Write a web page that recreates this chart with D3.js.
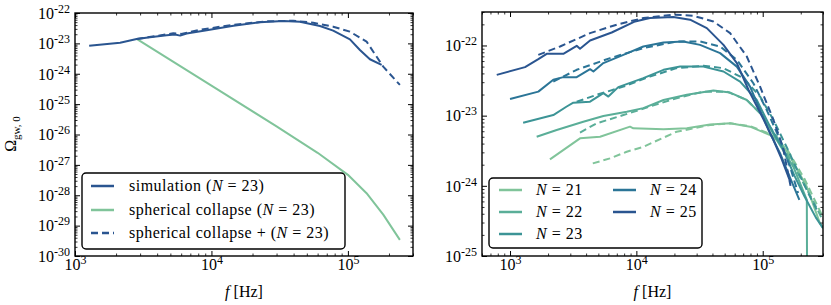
<!DOCTYPE html>
<html>
<head>
  <meta charset="utf-8">
  <script src="https://d3js.org/d3.v7.min.js"></script>
  <style>
    body { margin: 0; background: #fff; }
    svg text { font-family: "Liberation Serif", "DejaVu Serif", serif; fill: #000; }
  </style>
</head>
<body>
<script>
"use strict";

// ---- left panel data (frequency in Hz, Omega_gw,0) ----
var simFreq  = [1270, 2140, 2830, 3540, 4700, 5400, 5900, 6580, 9230, 14500, 22600, 33600, 44500, 62400, 78000, 103500, 122500, 145000, 176600];
var simOmega = [8.4e-24, 1.05e-23, 1.4e-23, 1.6e-23, 1.85e-23, 1.95e-23, 1.8e-23, 2.1e-23, 2.7e-23, 3.8e-23, 5.0e-23, 5.5e-23, 5.18e-23, 3.73e-23, 2.62e-23, 1.36e-23, 6.07e-24, 3.0e-24, 1.95e-24];

var scFreq  = [2830, 10000, 30000, 60000, 100000, 137000, 181600, 240400];
var scOmega = [1.4e-23, 4.07e-25, 1.86e-26, 2.5e-27, 4.7e-28, 1.17e-28, 2.3e-29, 3.4e-30];

var scPlusFreq  = [2830, 3960, 5250, 6000, 8240, 14500, 25400, 39700, 55700, 78000, 103500, 137100, 181600, 240400];
var scPlusOmega = [1.4e-23, 1.75e-23, 2.15e-23, 2.05e-23, 2.8e-23, 4.1e-23, 5.3e-23, 5.58e-23, 4.8e-23, 3.54e-23, 2.43e-23, 1.14e-23, 1.71e-24, 4.28e-25];

// ---- right panel data, one solid (simulation) and one dashed (spherical collapse +) per N ----
var nLabels = [21, 22, 23, 24, 25];
var nColors = ["#80c49a", "#5aae98", "#3c9496", "#2b7597", "#2a5590"];

var simF21 = [2070, 3580, 5160, 8910, 9460, 16400, 25100, 38300, 55200, 79400, 114300, 141300, 164800, 223400, 284400, 300000];
var simO21 = [2.38e-24, 4.75e-24, 5.0e-24, 6.97e-24, 6.6e-24, 6.4e-24, 6.6e-24, 7.5e-24, 7.78e-24, 6.97e-24, 5.3e-24, 4.0e-24, 2.6e-24, 9.7e-25, 2.9e-25, 2.5e-25];
var simF22 = [1625, 2340, 3800, 5480, 8390, 11350, 16400, 25100, 40700, 55200, 74800, 101400, 129100, 175000, 223400, 226000];
var simO22 = [5.0e-24, 6.25e-24, 8.2e-24, 9.9e-24, 1.14e-23, 1.28e-23, 1.67e-23, 1.98e-23, 2.28e-23, 2.13e-23, 1.67e-23, 9.7e-24, 4.5e-24, 1.86e-24, 6.3e-25, 1e-27];
var simF23 = [1270, 2200, 2810, 3170, 4300, 5480, 6000, 7190, 11350, 16400, 22200, 33900, 48900, 66200, 89700, 114300, 145900, 177800, 213800, 263000, 300000];
var simO23 = [7.94e-24, 1.02e-23, 1.35e-23, 1.53e-23, 1.58e-23, 2.09e-23, 1.87e-23, 2.55e-23, 3.42e-23, 4.5e-23, 5.0e-23, 5.0e-23, 4.26e-23, 3.06e-23, 1.67e-23, 6.97e-24, 3.24e-24, 1.41e-24, 7.1e-25, 3.55e-25, 2.5e-25];
var simF24 = [1000, 1675, 2200, 2640, 3370, 4300, 4570, 5480, 7890, 11350, 16400, 23500, 31900, 46000, 62400, 79400, 95300, 114300, 137400, 166000, 195000];
var simO24 = [1.73e-23, 2.2e-23, 3.24e-23, 3.54e-23, 3.54e-23, 4.6e-23, 4.26e-23, 5.61e-23, 7.36e-23, 9.68e-23, 1.1e-22, 1.14e-22, 1.02e-22, 7.78e-23, 5.0e-23, 2.59e-23, 1.2e-23, 5.6e-24, 2.9e-24, 1.26e-24, 6.3e-25];
var simF25 = [785, 1315, 1675, 1950, 2640, 3370, 3580, 4300, 6380, 9770, 12800, 19600, 26600, 36100, 48900, 62400, 77100, 101400, 121600, 141300, 166000];
var simO25 = [3.81e-23, 4.91e-23, 6.38e-23, 7.6e-23, 7.6e-23, 9.9e-23, 8.97e-23, 1.18e-22, 1.53e-22, 2.2e-22, 2.46e-22, 2.54e-22, 2.33e-22, 1.77e-22, 1.02e-22, 5.6e-23, 2.34e-23, 8.9e-24, 4.5e-24, 2.4e-24, 1.12e-24];

var scF21 = [4520, 6190, 8390, 11350, 20800, 38300, 55200, 79400, 114300, 158500, 213800, 281800, 300000];
var scO21 = [2.09e-24, 2.46e-24, 3.06e-24, 3.6e-24, 5.9e-24, 7.36e-24, 7.78e-24, 7.1e-24, 5.5e-24, 3.16e-24, 1.26e-24, 4.5e-25, 3.55e-25];
var scF22 = [3580, 4850, 7890, 12800, 20800, 33900, 52000, 74800, 101400, 131800, 173800, 223900, 281800, 300000];
var scO22 = [5.74e-24, 7.78e-24, 1.02e-23, 1.35e-23, 1.77e-23, 2.2e-23, 2.2e-23, 1.67e-23, 9.7e-24, 4.7e-24, 2.0e-24, 8.9e-25, 4.0e-25, 3.16e-25];
var scF23 = [3370, 4850, 7890, 12800, 20800, 33900, 48900, 70300, 95300, 121600, 154900, 190500, 229100, 269200];
var scO23 = [1.58e-23, 1.98e-23, 2.59e-23, 3.6e-23, 4.75e-23, 5.13e-23, 4.75e-23, 3.42e-23, 1.87e-23, 8.7e-24, 3.55e-24, 1.58e-24, 7.9e-25, 4.5e-25];
var scF24 = [2200, 3370, 6190, 11350, 20800, 31900, 46000, 62400, 84300, 107600, 137400, 166000, 190500];
var scO24 = [3.06e-23, 4.5e-23, 6.6e-23, 9.18e-23, 1.14e-22, 1.14e-22, 9.68e-23, 6.25e-23, 2.9e-23, 1.2e-23, 4.5e-24, 1.78e-24, 7.9e-25];
var scF25 = [1675, 2490, 4300, 7000, 11350, 19600, 28200, 40700, 55200, 74800, 95300, 121600, 144500, 166000];
var scO25 = [7.36e-23, 9.68e-23, 1.5e-22, 1.98e-22, 2.46e-22, 2.75e-22, 2.65e-22, 2.2e-22, 1.5e-22, 6.97e-23, 2.59e-23, 8.7e-24, 3.55e-24, 1.0e-24];

var W = 831, H = 305;
var simColor = "#2a5590", scColor = "#80c49a";

var svg = d3.select("body").append("svg")
    .attr("width", W)
    .attr("height", H);

// minor tick values 2..9 x 10^k inside [lo, hi]
function minorTicks(lo, hi) {
  var out = [];
  for (var e = Math.floor(Math.log10(lo)); e <= Math.ceil(Math.log10(hi)); e++) {
    for (var k = 2; k < 10; k++) {
      var v = k * Math.pow(10, e);
      if (v >= lo && v <= hi) out.push(v);
    }
  }
  return out;
}
function majorTicks(lo, hi) {
  var out = [];
  for (var e = Math.ceil(Math.log10(lo) - 1e-9); e <= Math.floor(Math.log10(hi) + 1e-9); e++) out.push(Math.pow(10, e));
  return out;
}

// turn the tick text into 10 with a superscript exponent
function powLabels(sel, shift) {
  sel.selectAll(".tick text").each(function(d) {
    var t = d3.select(this);
    var e = Math.round(Math.log10(d));
    t.text(null).attr("font-size", 16).attr("font-family", null);
    t.append("tspan").text("10");
    t.append("tspan").attr("dy", shift).attr("font-size", 12).text(e);
  });
}

function nText(sel, n) {
  sel.append("tspan").attr("font-style", "italic").text("N");
  sel.append("tspan").text(" = " + n);
}

function drawPanel(p) {
  var x = d3.scaleLog().domain(p.xDomain).range([p.x0, p.x1]);
  var y = d3.scaleLog().domain(p.yDomain).range([p.y1, p.y0]);
  var g = svg.append("g");

  var clipId = "clip" + p.id;
  g.append("clipPath").attr("id", clipId)
    .append("rect")
    .attr("x", p.x0).attr("y", p.y0)
    .attr("width", p.x1 - p.x0).attr("height", p.y1 - p.y0);

  var line = d3.line()
    .x(function(d) { return x(d[0]); })
    .y(function(d) { return y(d[1]); });

  var plot = g.append("g").attr("clip-path", "url(#" + clipId + ")");
  p.series.forEach(function(s) {
    plot.append("path")
      .datum(d3.zip(s.f, s.v))
      .attr("d", line)
      .attr("fill", "none")
      .attr("stroke", s.color)
      .attr("stroke-width", 2)
      .attr("stroke-linejoin", "round")
      .attr("stroke-dasharray", s.dash ? "7,4" : null);
  });

  // ticks on all four sides, pointing inward
  var xMaj = majorTicks(p.xDomain[0], p.xDomain[1]), xMin = minorTicks(p.xDomain[0], p.xDomain[1]);
  var yMaj = majorTicks(p.yDomain[0], p.yDomain[1]), yMin = minorTicks(p.yDomain[0], p.yDomain[1]);

  function majorAxis(maker, scale, vals, transform, labelled) {
    var a = g.append("g").attr("transform", transform)
      .call(maker(scale).tickValues(vals).tickSizeInner(-5).tickSizeOuter(0).tickPadding(6));
    a.select(".domain").remove();
    a.selectAll("line").attr("stroke", "#000").attr("stroke-width", 1);
    if (!labelled) a.selectAll("text").remove();
    return a;
  }
  function minorAxis(maker, scale, vals, transform) {
    var a = g.append("g").attr("transform", transform)
      .call(maker(scale).tickValues(vals).tickSizeInner(-2.5).tickSizeOuter(0).tickFormat(""));
    a.select(".domain").remove();
    a.selectAll("line").attr("stroke", "#000").attr("stroke-width", 0.8);
  }

  var bottom = majorAxis(d3.axisBottom, x, xMaj, "translate(0," + p.y1 + ")", true);
  majorAxis(d3.axisTop, x, xMaj, "translate(0," + p.y0 + ")", false);
  var left = majorAxis(d3.axisLeft, y, yMaj, "translate(" + p.x0 + ",0)", true);
  majorAxis(d3.axisRight, y, yMaj, "translate(" + p.x1 + ",0)", false);
  minorAxis(d3.axisBottom, x, xMin, "translate(0," + p.y1 + ")");
  minorAxis(d3.axisTop, x, xMin, "translate(0," + p.y0 + ")");
  minorAxis(d3.axisLeft, y, yMin, "translate(" + p.x0 + ",0)");
  minorAxis(d3.axisRight, y, yMin, "translate(" + p.x1 + ",0)");

  powLabels(bottom, -6);
  bottom.selectAll(".tick text").attr("y", 14).attr("dy", 0);
  powLabels(left, -6);
  left.selectAll(".tick text").attr("x", -5).attr("dy", "0.33em");

  // frame
  g.append("rect")
    .attr("x", p.x0).attr("y", p.y0)
    .attr("width", p.x1 - p.x0).attr("height", p.y1 - p.y0)
    .attr("fill", "none").attr("stroke", "#000").attr("stroke-width", 1.4);

  // x label
  var xl = g.append("text")
    .attr("x", (p.x0 + p.x1) / 2).attr("y", 297)
    .attr("text-anchor", "middle").attr("font-size", 16);
  xl.append("tspan").attr("font-style", "italic").text("f");
  xl.append("tspan").text(" [Hz]");

  // legend
  var L = p.legend;
  g.append("rect")
    .attr("x", L.x).attr("y", L.y).attr("width", L.w).attr("height", L.h)
    .attr("rx", 4).attr("ry", 4)
    .attr("fill", "#fff").attr("stroke", "#000").attr("stroke-width", 1.4);
  L.items.forEach(function(it) {
    g.append("line")
      .attr("x1", it.x).attr("x2", it.x + 23)
      .attr("y1", it.y).attr("y2", it.y)
      .attr("stroke", it.color).attr("stroke-width", 2.5)
      .attr("stroke-dasharray", it.dash ? "7,4" : null);
    var t = g.append("text")
      .attr("x", it.x + L.gap).attr("y", it.y + 5)
      .attr("font-size", 16)
      .attr("letter-spacing", 0.5);
    it.text(t);
  });
}

function draw() {
  // left panel
  drawPanel({
    id: "L", x0: 75, x1: 413, y0: 13, y1: 256,
    xDomain: [1e3, 3e5], yDomain: [1e-30, 1e-22],
    series: [
      { f: scFreq, v: scOmega, color: scColor, dash: false },
      { f: simFreq, v: simOmega, color: simColor, dash: false },
      { f: scPlusFreq, v: scPlusOmega, color: simColor, dash: true }
    ],
    legend: {
      x: 82, y: 173, w: 263, h: 76, gap: 38,
      items: [
        { x: 91, y: 186, color: simColor, dash: false,
          text: function(t) { t.append("tspan").text("simulation ("); nText(t, 23); t.append("tspan").text(")"); } },
        { x: 91, y: 210, color: scColor, dash: false,
          text: function(t) { t.append("tspan").text("spherical collapse ("); nText(t, 23); t.append("tspan").text(")"); } },
        { x: 91, y: 233, color: simColor, dash: true,
          text: function(t) { t.append("tspan").text("spherical collapse + ("); nText(t, 23); t.append("tspan").text(")"); } }
      ]
    }
  });

  // right panel
  var simF = [simF21, simF22, simF23, simF24, simF25], simO = [simO21, simO22, simO23, simO24, simO25];
  var scF = [scF21, scF22, scF23, scF24, scF25], scO = [scO21, scO22, scO23, scO24, scO25];
  var series = [];
  nLabels.forEach(function(n, i) {
    series.push({ f: simF[i], v: simO[i], color: nColors[i], dash: false });
    series.push({ f: scF[i], v: scO[i], color: nColors[i], dash: true });
  });
  var rows = [190, 212, 234];
  var items = nLabels.map(function(n, i) {
    var col = i < 3 ? 0 : 1;
    return { x: col ? 613 : 499, y: rows[col ? i - 3 : i], color: nColors[i], dash: false,
             text: function(t) { nText(t, n); } };
  });
  drawPanel({
    id: "R", x0: 482, x1: 823, y0: 12, y1: 256,
    xDomain: [600, 3e5], yDomain: [1e-25, 3e-22],
    series: series,
    legend: { x: 489, y: 178, w: 213, h: 70, gap: 37, items: items }
  });

  // y label of left panel
  var yl = svg.append("text")
    .attr("transform", "translate(16,134) rotate(-90)")
    .attr("text-anchor", "middle").attr("font-size", 16);
  yl.append("tspan").text("\u03A9");
  yl.append("tspan").attr("dy", 4).attr("font-size", 11).text("gw, 0");
}

draw();
</script>
</body>
</html>
